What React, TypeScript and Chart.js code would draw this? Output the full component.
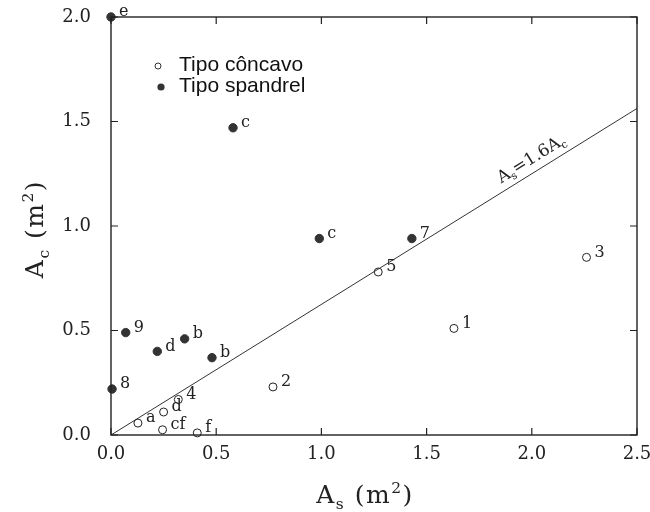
import React, { useEffect, useRef } from "react";
import { Chart, registerables } from "chart.js";

Chart.register(...registerables);

// ---- data ----
const concavoX = [1.63, 0.77, 2.26, 0.32, 1.27, 0.128, 0.245, 0.25, 0.41];
const concavoY = [0.51, 0.23, 0.85, 0.17, 0.78, 0.057, 0.025, 0.11, 0.01];
const concavoLabels = ["1", "2", "3", "4", "5", "a", "cf", "d", "f"];

const spandrelX = [0.0, 0.58, 0.99, 1.43, 0.07, 0.35, 0.22, 0.48, 0.005];
const spandrelY = [2.0, 1.47, 0.94, 0.94, 0.49, 0.46, 0.40, 0.37, 0.22];
const spandrelLabels = ["e", "c", "c", "7", "9", "b", "d", "b", "8"];

const lineX = [0, 2.5];
const lineRatio = 1.6; // As = 1.6 Ac
const lineY = lineX.map((x) => x / lineRatio);

const xTicks = [0, 0.5, 1.0, 1.5, 2.0, 2.5];
const yTicks = [0, 0.5, 1.0, 1.5, 2.0];

const legendLabels = ["Tipo côncavo", "Tipo spandrel"];

const SERIF = "'DejaVu Serif', 'Liberation Serif', serif";
const SANS = "'Liberation Sans', Arial, sans-serif";

type Seg = { t: string; mode?: "sub" | "sup" };

function drawRich(ctx: CanvasRenderingContext2D, segs: Seg[], size: number, align: "center" | "left", spacing = 0) {
  const fontFor = (s: Seg) => `${s.mode ? size * 0.62 : size}px ${SERIF}`;
  (ctx as any).letterSpacing = `${spacing}px`;
  const total = segs.reduce((a, s) => {
    ctx.font = fontFor(s);
    return a + ctx.measureText(s.t).width;
  }, 0);
  let x = align === "center" ? -total / 2 : 0;
  ctx.textBaseline = "alphabetic";
  ctx.textAlign = "left";
  for (const s of segs) {
    ctx.font = fontFor(s);
    const dy = s.mode === "sub" ? size * 0.22 : s.mode === "sup" ? -size * 0.42 : 0;
    ctx.fillText(s.t, x, dy);
    x += ctx.measureText(s.t).width;
  }
  (ctx as any).letterSpacing = "0px";
}

const zeroPad = (s: any) => {
  s.paddingTop = 0;
  s.paddingBottom = 0;
  s.paddingLeft = 0;
  s.paddingRight = 0;
};

const decorPlugin = {
  id: "decor",
  afterDraw(chart: any) {
    const ctx: CanvasRenderingContext2D = chart.ctx;
    const { left, right, top, bottom } = chart.chartArea;
    const xs = chart.scales.x;
    const ys = chart.scales.y;
    ctx.save();
    ctx.strokeStyle = "#222";
    ctx.lineWidth = 1.4;
    ctx.strokeRect(left, top, right - left, bottom - top);
    const tl = 7;
    ctx.lineWidth = 1.2;
    ctx.beginPath();
    xTicks.forEach((v) => {
      const px = xs.getPixelForValue(v);
      ctx.moveTo(px, bottom);
      ctx.lineTo(px, bottom - tl);
      ctx.moveTo(px, top);
      ctx.lineTo(px, top + tl);
    });
    yTicks.forEach((v) => {
      const py = ys.getPixelForValue(v);
      ctx.moveTo(left, py);
      ctx.lineTo(left + tl, py);
      ctx.moveTo(right, py);
      ctx.lineTo(right - tl, py);
    });
    ctx.stroke();

    // point labels
    ctx.fillStyle = "#222";
    ctx.font = `16px ${SERIF}`;
    ctx.textAlign = "left";
    ctx.textBaseline = "middle";
    concavoLabels.forEach((l, i) => {
      ctx.fillText(l, xs.getPixelForValue(concavoX[i]) + 8, ys.getPixelForValue(concavoY[i]) - 5);
    });
    spandrelLabels.forEach((l, i) => {
      ctx.fillText(l, xs.getPixelForValue(spandrelX[i]) + 8, ys.getPixelForValue(spandrelY[i]) - 5);
    });

    // line label
    const lx = 2.03;
    const p0x = xs.getPixelForValue(lx);
    const p0y = ys.getPixelForValue(lx / lineRatio);
    const ang = Math.atan2(
      ys.getPixelForValue(lineY[1]) - ys.getPixelForValue(lineY[0]),
      xs.getPixelForValue(lineX[1]) - xs.getPixelForValue(lineX[0])
    );
    ctx.save();
    ctx.translate(p0x, p0y);
    ctx.rotate(ang);
    ctx.translate(0, -8);
    drawRich(ctx, [{ t: "A" }, { t: "s", mode: "sub" }, { t: "=1.6A" }, { t: "c", mode: "sub" }], 17, "center");
    ctx.restore();

    // axis titles
    ctx.fillStyle = "#222";
    ctx.save();
    ctx.translate(365, 503);
    drawRich(ctx, [{ t: "A" }, { t: "s", mode: "sub" }, { t: " (m" }, { t: "2", mode: "sup" }, { t: ")" }], 25, "center", 1.5);
    ctx.restore();
    ctx.save();
    ctx.translate(43, (top + bottom) / 2 + 3);
    ctx.rotate(-Math.PI / 2);
    drawRich(ctx, [{ t: "A" }, { t: "c", mode: "sub" }, { t: " (m" }, { t: "2", mode: "sup" }, { t: ")" }], 25, "center", 1.5);
    ctx.restore();

    // legend
    ctx.lineWidth = 1;
    ctx.strokeStyle = "#333";
    ctx.beginPath();
    ctx.arc(left + 47, top + 49, 3, 0, Math.PI * 2);
    ctx.fillStyle = "#fff";
    ctx.fill();
    ctx.stroke();
    ctx.beginPath();
    ctx.arc(left + 50, top + 70, 3.6, 0, Math.PI * 2);
    ctx.fillStyle = "#333";
    ctx.fill();
    ctx.fillStyle = "#111";
    ctx.font = `21px ${SANS}`;
    ctx.textAlign = "left";
    ctx.textBaseline = "alphabetic";
    ctx.fillText(legendLabels[0], left + 68, top + 54);
    ctx.fillText(legendLabels[1], left + 68, top + 75);
    ctx.restore();
  },
};

export default function App() {
  const ref = useRef<HTMLCanvasElement | null>(null);
  useEffect(() => {
    document.body.style.margin = "0";
    const canvas = ref.current!;
    const chart = new Chart(canvas, {
      type: "scatter",
      data: {
        datasets: [
          {
            type: "line",
            data: lineX.map((x, i) => ({ x, y: lineY[i] })),
            borderColor: "#333",
            borderWidth: 1,
            pointRadius: 0,
            fill: false,
          } as any,
          {
            data: concavoX.map((x, i) => ({ x, y: concavoY[i] })),
            pointRadius: 4,
            pointBackgroundColor: "#fff",
            pointBorderColor: "#222",
            pointBorderWidth: 1,
            clip: false,
          } as any,
          {
            data: spandrelX.map((x, i) => ({ x, y: spandrelY[i] })),
            pointRadius: 4.2,
            pointBackgroundColor: "#333",
            pointBorderColor: "#333",
            pointBorderWidth: 1,
            clip: false,
          } as any,
        ],
      },
      options: {
        animation: false,
        responsive: false,
        layout: { padding: { top: 17, right: 13, left: 0, bottom: 0 } },
        plugins: { legend: { display: false }, tooltip: { enabled: false } },
        scales: {
          x: {
            type: "linear",
            min: 0,
            max: 2.5,
            afterBuildTicks: (s: any) => {
              s.ticks = xTicks.map((v) => ({ value: v }));
            },
            afterFit: (s: any) => {
              s.height = 77;
              zeroPad(s);
            },
            grid: { display: false, drawTicks: false },
            border: { display: false },
            ticks: {
              padding: 9,
              color: "#222",
              font: { family: SERIF, size: 18 },
              callback: (v: any) => Number(v).toFixed(1),
            },
          },
          y: {
            type: "linear",
            min: 0,
            max: 2.0,
            afterBuildTicks: (s: any) => {
              s.ticks = yTicks.map((v) => ({ value: v }));
            },
            afterFit: (s: any) => {
              s.width = 111;
              zeroPad(s);
            },
            grid: { display: false, drawTicks: false },
            border: { display: false },
            ticks: {
              padding: 20,
              color: "#222",
              font: { family: SERIF, size: 18 },
              callback: (v: any) => Number(v).toFixed(1),
            },
          },
        },
      },
      plugins: [decorPlugin],
    });
    return () => chart.destroy();
  }, []);
  return (
    <div style={{ width: 650, height: 512, background: "#fff" }}>
      <canvas ref={ref} width={650} height={512} style={{ display: "block" }} />
    </div>
  );
}
